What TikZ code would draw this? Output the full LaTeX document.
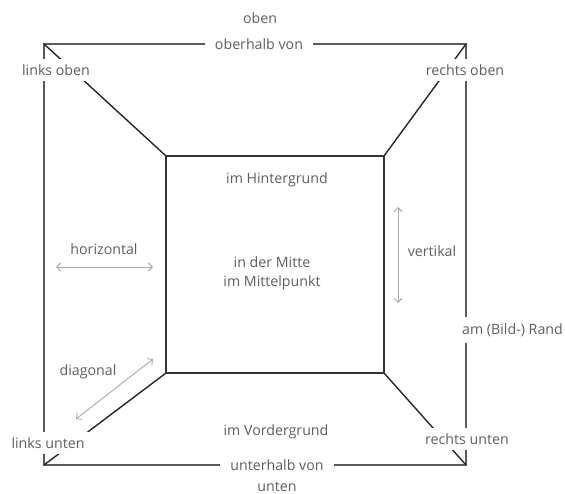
\documentclass[tikz,border=0pt]{standalone}
\usepackage{fontspec}
\setmainfont{Open Sans}
\usepackage{tikz}
\usetikzlibrary{arrows.meta}
\definecolor{textgray}{RGB}{95,95,95}
\definecolor{arrowgray}{RGB}{170,170,170}
\definecolor{framegray}{RGB}{90,90,90}
\tikzset{frameline/.style={framegray,line width=1.3pt}}
\tikzset{depthline/.style={black!85,line width=1.4pt}}
\tikzset{backline/.style={black!80,line width=1.8pt}}
\tikzset{dirarrow/.style={<->,>={Straight Barb[length=4pt,width=8pt]},arrowgray,line width=0.9pt}}
\tikzset{lbl/.style={fill=white,inner sep=6pt,text=textgray,font=\fontsize{14.2}{16}\selectfont}}
\tikzset{freelbl/.style={inner sep=0pt,text=textgray,font=\fontsize{14.2}{16}\selectfont}}

\begin{document}
\begin{tikzpicture}[x=1pt,y=-1pt]
            \useasboundingbox (0,0) rectangle (565,494);
            % corners of the frame and of the back wall
            \coordinate (TL) at (44,44);
            \coordinate (TR) at (466,44);
            \coordinate (BL) at (44,465);
            \coordinate (BR) at (466,465);
            \coordinate (ITL) at (166,156);
            \coordinate (ITR) at (384,156);
            \coordinate (IBL) at (166,373);
            \coordinate (IBR) at (384,373);
            % draw the outer frame
            \draw[frameline] (TL) -- (TR) -- (BR) -- (BL) -- cycle;
            % draw the depth lines
            \draw[depthline] (TL) -- (ITL);
            \draw[depthline] (TR) -- (ITR);
            \draw[depthline] (BL) -- (IBL);
            \draw[depthline] (BR) -- (IBR);
            % draw the back wall
            \draw[backline] (ITL) -- (ITR) -- (IBR) -- (IBL) -- cycle;

            % labels on the frame (they cut the lines)
            \node[lbl] (lo) at (56,70) {links oben};
            \node[lbl] (ro) at (465,70) {rechts oben};
            \node[lbl] (lu) at (48,443) {links unten};
            \node[lbl] (ru) at (467,439) {rechts unten};
            \node[lbl,inner xsep=10pt] (oberhalb) at (259,44) {oberhalb von};
            \node[lbl,inner xsep=10pt] (unterhalb) at (277,465) {unterhalb von};
            \node[lbl,anchor=west,inner xsep=0pt] (rand) at (462,330) {am (Bild-) Rand};

            % free labels
            \node[freelbl] (oben) at (260,18) {oben};
            \node[freelbl] (unten) at (277,487) {unten};
            \node[freelbl] (hinter) at (277,180) {im Hintergrund};
            \node[freelbl] (vorder) at (276,432) {im Vordergrund};
            \node[freelbl,align=center] (mitte) at (272,273) {in der Mitte\\[3pt]im Mittelpunkt};
            \node[freelbl] (horiz) at (104,249) {horizontal};
            \node[freelbl] (vert) at (432,251) {vertikal};
            \node[freelbl] (diag) at (88,372) {diagonal};

            % draw the direction arrows
            \coordinate (h1) at (56,267);
            \coordinate (h2) at (153,267);
            \coordinate (v1) at (398,207);
            \coordinate (v2) at (398,303);
            \coordinate (d1) at (76,419);
            \coordinate (d2) at (153,359);
            \draw[dirarrow] (h1) -- (h2);
            \draw[dirarrow] (v1) -- (v2);
            \draw[dirarrow] (d1) -- (d2);
        \end{tikzpicture}
\end{document}
